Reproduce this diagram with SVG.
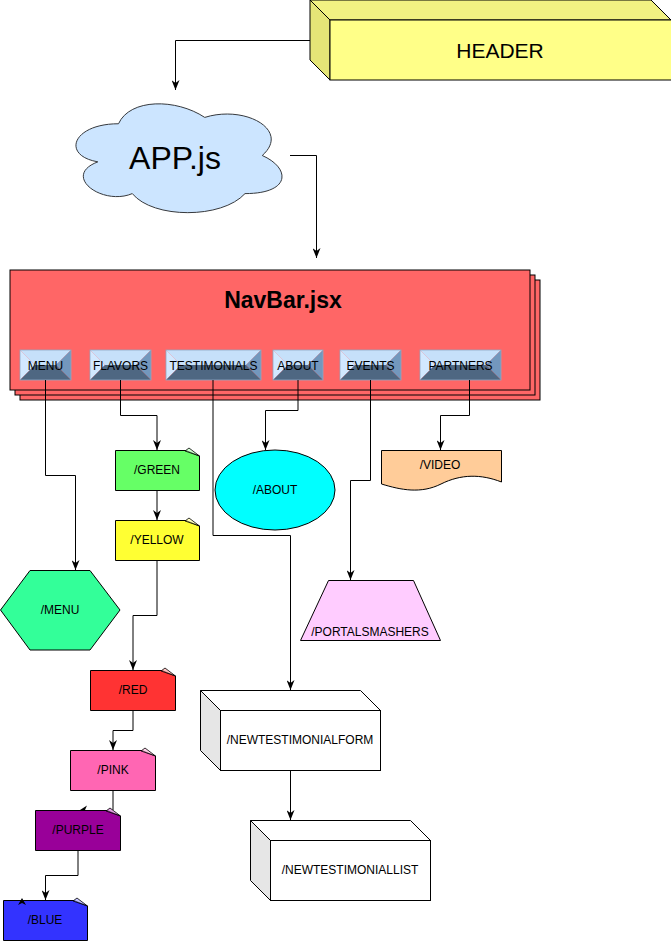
<svg xmlns="http://www.w3.org/2000/svg" width="671" height="941" viewBox="0 0 671 941">
<defs>
<marker id="arr" viewBox="0 0 10 8" refX="10" refY="4" markerWidth="10" markerHeight="8" markerUnits="userSpaceOnUse" orient="auto">
<path d="M0,0 L10,4 L0,8 L3,4 Z" fill="#000"/>
</marker>
<style>
text{font-family:"Liberation Sans",Arial,sans-serif;fill:#000;text-anchor:middle}
.t12{font-size:12px}
.ln{fill:none;stroke:#000;stroke-width:1}
.ed{fill:none;stroke:#000;stroke-width:1;marker-end:url(#arr)}
.sh{stroke:#000;stroke-width:1}
.btop{fill:#C6E0FA}
.bl{fill:#D2E8FF}
.br{fill:#7397BD}
.bb{fill:#4E6782}
.bo{fill:none;stroke:#8FA8C2;stroke-width:0.8}
.fold{stroke:#000;stroke-width:0.8;fill-opacity:0.6}
</style>
</defs>
<rect width="671" height="941" fill="#fff"/>

<g id="header">
<polygon points="310,0 651,0 671,20 330,20" fill="#F2F282" class="sh"/>
<polygon points="310,0 330,20 330,80 310,60" fill="#E5E577" class="sh"/>
<rect x="330" y="20" width="345" height="60" fill="#FFFF88" class="sh"/>
<text x="500" y="58" style="font-size:21px">HEADER</text>
</g>

<g id="app">
<path d="M118.5,123.75 C72.5,123.75 61,155.5 97.8,161.85 C61,175.8 102.4,206.3 132.3,193.6 C153,219 222,219 245,193.6 C291,193.6 291,168.2 262.25,155.5 C291,130.1 245,104.7 204.75,117.4 C176,98.35 130,98.35 118.5,123.75 Z" fill="#CCE5FF" stroke="#36393d" stroke-width="1"/>
<text x="175" y="169" style="font-size:32px">APP.js</text>
</g>

<g id="navbar">
<rect x="20" y="280" width="520" height="120" fill="#FF6666" class="sh"/>
<rect x="15" y="275" width="520" height="120" fill="#FF6666" class="sh"/>
<rect x="10" y="270" width="520" height="120" fill="#FF6666" class="sh"/>
<text x="283" y="308" style="font-size:23px;font-weight:bold">NavBar.jsx</text>
</g>

<g id="btn-menu">
<polygon class="btop" points="20,350 71,350 56,365 35,365"/>
<polygon class="bl" points="20,350 35,365 20,380"/>
<polygon class="br" points="71,350 71,380 56,365"/>
<polygon class="bb" points="20,380 35,365 56,365 71,380"/>
<rect class="bo" x="20" y="350" width="51" height="30"/>
<text class="t12" x="45.5" y="369.5">MENU</text>
</g>
<g id="btn-flavors">
<polygon class="btop" points="90,350 151,350 136,365 105,365"/>
<polygon class="bl" points="90,350 105,365 90,380"/>
<polygon class="br" points="151,350 151,380 136,365"/>
<polygon class="bb" points="90,380 105,365 136,365 151,380"/>
<rect class="bo" x="90" y="350" width="61" height="30"/>
<text class="t12" x="120.5" y="369.5">FLAVORS</text>
</g>
<g id="btn-testimonials">
<polygon class="btop" points="166,350 261,350 246,365 181,365"/>
<polygon class="bl" points="166,350 181,365 166,380"/>
<polygon class="br" points="261,350 261,380 246,365"/>
<polygon class="bb" points="166,380 181,365 246,365 261,380"/>
<rect class="bo" x="166" y="350" width="95" height="30"/>
<text class="t12" x="213.5" y="369.5">TESTIMONIALS</text>
</g>
<g id="btn-about">
<polygon class="btop" points="273,350 323,350 308,365 288,365"/>
<polygon class="bl" points="273,350 288,365 273,380"/>
<polygon class="br" points="323,350 323,380 308,365"/>
<polygon class="bb" points="273,380 288,365 308,365 323,380"/>
<rect class="bo" x="273" y="350" width="50" height="30"/>
<text class="t12" x="298" y="369.5">ABOUT</text>
</g>
<g id="btn-events">
<polygon class="btop" points="340,350 401,350 386,365 355,365"/>
<polygon class="bl" points="340,350 355,365 340,380"/>
<polygon class="br" points="401,350 401,380 386,365"/>
<polygon class="bb" points="340,380 355,365 386,365 401,380"/>
<rect class="bo" x="340" y="350" width="61" height="30"/>
<text class="t12" x="370.5" y="369.5">EVENTS</text>
</g>
<g id="btn-partners">
<polygon class="btop" points="420,350 501,350 486,365 435,365"/>
<polygon class="bl" points="420,350 435,365 420,380"/>
<polygon class="br" points="501,350 501,380 486,365"/>
<polygon class="bb" points="420,380 435,365 486,365 501,380"/>
<rect class="bo" x="420" y="350" width="81" height="30"/>
<text class="t12" x="460.5" y="369.5">PARTNERS</text>
</g>

<g id="menu">
<polygon points="0.5,610 30,570.5 90,570.5 120,610 90,650 30,650" fill="#33FF99" class="sh"/>
<text class="t12" x="60" y="614">/MENU</text>
</g>

<g id="green">
<path d="M115.5,450.5 H186 L199.5,456 V490.5 H115.5 Z" fill="#66FF66" class="sh"/>
<polygon class="fold" points="185,451 189,448 199.5,456" fill="#B3FFB3"/>
<text class="t12" x="157" y="474">/GREEN</text>
</g>
<g id="yellow">
<path d="M115.5,520.5 H186 L199.5,526 V560.5 H115.5 Z" fill="#FFFF33" class="sh"/>
<polygon class="fold" points="185,521 189,518 199.5,526" fill="#FFFF99"/>
<text class="t12" x="157" y="544">/YELLOW</text>
</g>
<g id="red">
<path d="M90.5,670.5 H162 L175.5,676 V710.5 H90.5 Z" fill="#FF3333" class="sh"/>
<polygon class="fold" points="161,671 165,668 175.5,676" fill="#FF9999"/>
<text class="t12" x="133" y="694">/RED</text>
</g>
<g id="pink">
<path d="M70.5,750.5 H142 L155.5,756 V790.5 H70.5 Z" fill="#FF66B3" class="sh"/>
<polygon class="fold" points="141,751 145,748 155.5,756" fill="#FFB3D9"/>
<text class="t12" x="113" y="774">/PINK</text>
</g>
<g id="purple">
<path d="M35.5,810.5 H107 L120.5,816 V850.5 H35.5 Z" fill="#990099" class="sh"/>
<polygon class="fold" points="106,811 110,808 120.5,816" fill="#CC66CC"/>
<text class="t12" x="78" y="834">/PURPLE</text>
</g>
<g id="blue">
<path d="M3.5,900.5 H74 L87.5,906 V940.5 H3.5 Z" fill="#3333FF" class="sh"/>
<polygon class="fold" points="73,901 77,898 87.5,906" fill="#9999FF"/>
<text class="t12" x="45" y="924">/BLUE</text>
</g>

<g id="about">
<ellipse cx="275" cy="490" rx="60" ry="40" fill="#00FFFF" class="sh"/>
<text class="t12" x="275" y="494">/ABOUT</text>
</g>

<g id="video">
<path d="M381.5,450.5 H501.5 V482 C481,474 461,474 441,484 C421,494 401,490 381.5,484 Z" fill="#FFCC99" class="sh"/>
<text class="t12" x="440" y="469">/VIDEO</text>
</g>

<g id="portalsmashers">
<polygon points="328.5,580.5 413.5,580.5 440.5,640.5 300.5,640.5" fill="#FFCCFF" class="sh"/>
<text class="t12" x="370" y="636">/PORTALSMASHERS</text>
</g>

<g id="newtestimonialform">
<polygon points="200.5,690.5 360.5,690.5 380.5,710.5 220.5,710.5" fill="#FFFFFF" class="sh"/>
<polygon points="200.5,690.5 220.5,710.5 220.5,770.5 200.5,750.5" fill="#E6E6E6" class="sh"/>
<rect x="220.5" y="710.5" width="160" height="60" fill="#FFFFFF" class="sh"/>
<text class="t12" x="300" y="744">/NEWTESTIMONIALFORM</text>
</g>

<g id="newtestimoniallist">
<polygon points="250.5,820.5 410.5,820.5 430.5,840.5 270.5,840.5" fill="#FFFFFF" class="sh"/>
<polygon points="250.5,820.5 270.5,840.5 270.5,900.5 250.5,880.5" fill="#E6E6E6" class="sh"/>
<rect x="270.5" y="840.5" width="160" height="60" fill="#FFFFFF" class="sh"/>
<text class="t12" x="350" y="874">/NEWTESTIMONIALLIST</text>
</g>

<g id="connectors">
<path class="ed" d="M310,40.5 H175.5 V90"/>
<path class="ed" d="M290,155.5 H316.5 V258"/>
<path class="ed" d="M45.5,380 V475.5 H75.5 V570"/>
<path class="ed" d="M120.5,380 V415.5 H157 V450"/>
<path class="ed" d="M157,490 V520"/>
<path class="ed" d="M157,560 V615.5 H133 V670"/>
<path class="ed" d="M133,710 V730.5 H113 V750"/>
<path class="ln" d="M113,790 V810"/>
<polygon points="80,810 87,805.5 85,810" fill="#000"/>
<path class="ed" d="M78,850 V875.5 H45.5 V900"/>
<polygon points="22,898 26,905 22,903 18,905" fill="#000"/>
<path class="ed" d="M213,380 V535.5 H290.5 V690"/>
<path class="ed" d="M290.5,770 V820"/>
<path class="ed" d="M298,380 V410.5 H265.5 V450"/>
<path class="ed" d="M370.5,380 V480.5 H350.5 V580"/>
<path class="ed" d="M469.5,380 V415.5 H440.5 V450"/>
</g>
</svg>
